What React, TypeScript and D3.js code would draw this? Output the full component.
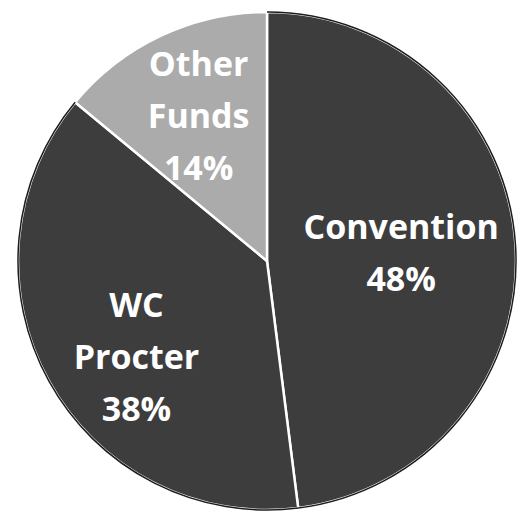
import React, { useEffect, useRef } from "react";
import * as d3 from "d3";

const categories = ["Convention", "WC Procter", "Other Funds"];
const shares = [48, 38, 14];
const labelLines = [["Convention"], ["WC", "Procter"], ["Other", "Funds"]];
const colors = ["#3d3d3d", "#3d3d3d", "#ababab"];

type Slice = { name: string; value: number; i: number };

const App: React.FC = () => {
  const svgRef = useRef<SVGSVGElement>(null);

  useEffect(() => {
    if (!svgRef.current) return;
    const svg = d3.select(svgRef.current);
    svg.selectAll("*").remove();

    const cx = 267;
    const cy = 261;
    const r = 249;

    const data: Slice[] = categories.map((c, i) => ({ name: c, value: shares[i], i }));

    const pie = d3
      .pie<Slice>()
      .sort(null)
      .value((d) => d.value);
    const arcs = pie(data);

    const arc = d3.arc<d3.PieArcDatum<Slice>>().innerRadius(0).outerRadius(r);

    const g = svg.append("g").attr("transform", `translate(${cx},${cy})`);

    g.selectAll("path.slice")
      .data(arcs)
      .join("path")
      .attr("class", "slice")
      .attr("d", arc)
      .attr("fill", (d) => colors[d.data.i])
      .attr("stroke", "#ffffff")
      .attr("stroke-width", 2.5)
      .attr("stroke-linejoin", "round");

    // thin dark rim on the dark slices
    const rim = d3.arc<d3.PieArcDatum<Slice>>().innerRadius(r).outerRadius(r);
    g.selectAll("path.rim")
      .data(arcs.filter((d) => d.data.i !== 2))
      .join("path")
      .attr("class", "rim")
      .attr("d", rim)
      .attr("fill", "none")
      .attr("stroke", "#1c1c1c")
      .attr("stroke-width", 1.5);

    // label placement (best-fit style: radius fraction + small angle shift)
    const labelRadius = [0.54, 0.65, 0.645];
    const labelShift = [0, -0.13, 0];
    const lineGap = 52;
    arcs.forEach((d) => {
      const mid = (d.startAngle + d.endAngle) / 2 + labelShift[d.data.i];
      const [lx, ly] = d3.pointRadial(mid, r * labelRadius[d.data.i]);
      const lines = [...labelLines[d.data.i], `${d.data.value}%`];
      const top = ly - ((lines.length - 1) * lineGap) / 2;
      const t = g
        .append("text")
        .attr("text-anchor", "middle")
        .attr("font-family", "'Open Sans', sans-serif")
        .attr("font-weight", 700)
        .attr("font-size", 34)
        .attr("fill", "#ffffff");
      lines.forEach((ln, k) => {
        t.append("tspan")
          .attr("x", lx)
          .attr("y", top + k * lineGap + 12)
          .text(ln);
      });
    });
  }, []);

  return (
    <svg
      ref={svgRef}
      width={520}
      height={513}
      style={{ position: "absolute", left: 0, top: 0, background: "#ffffff" }}
    />
  );
};

export default App;
